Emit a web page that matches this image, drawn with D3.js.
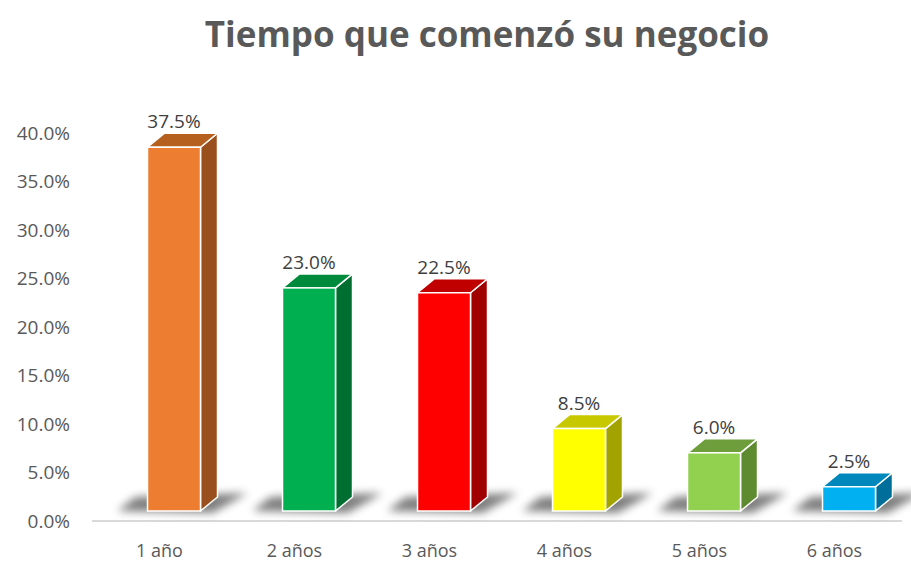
<!DOCTYPE html>
<html>
<head>
<meta charset="utf-8">
<script src="https://cdn.jsdelivr.net/npm/d3@7"></script>
<style>
    body { margin: 0; background: #ffffff; }
    svg { display: block; }
</style>
</head>
<body>
<div id="chart"></div>
<script>
// Data
const categories = ["1 año", "2 años", "3 años", "4 años", "5 años", "6 años"];
const values = [37.5, 23.0, 22.5, 8.5, 6.0, 2.5];
const yTicks = [0, 5, 10, 15, 20, 25, 30, 35, 40];

// Face colours: front, top, side
const frontColors = ["#ED7D31", "#00B050", "#FF0000", "#FFFF00", "#92D050", "#00B0F0"];
const topColors = ["#B5601F", "#008A3C", "#C00000", "#C8C800", "#6E9E3C", "#0088BC"];
const sideColors = ["#9A501D", "#006E30", "#A00000", "#A3A300", "#5E8A30", "#006E9A"];

const width = 911;
const height = 563;
const margin = { top: 133, right: 9, bottom: 42, left: 92 };

// 3D offsets
const lift = 10;     // front face sits above the floor
const depthX = 17;
const depthY = 14;
const barWidth = 53;

const svg = d3.select("#chart")
    .append("svg")
    .attr("width", width)
    .attr("height", height);

const defs = svg.append("defs");
defs.append("filter")
    .attr("id", "shadow")
    .attr("x", "-50%").attr("y", "-100%")
    .attr("width", "200%").attr("height", "300%")
    .append("feGaussianBlur")
    .attr("stdDeviation", 4);

const x = d3.scaleBand()
    .domain(categories)
    .range([margin.left, width - margin.right]);

const y = d3.scaleLinear()
    .domain([0, 40])
    .range([height - margin.bottom, margin.top]);

// Title
svg.append("text")
    .attr("x", 487)
    .attr("y", 47)
    .attr("text-anchor", "middle")
    .attr("font-family", "'Open Sans', sans-serif")
    .attr("font-weight", "bold")
    .attr("font-size", "35px")
    .attr("fill", "#595959")
    .text("Tiempo que comenzó su negocio");

// Y axis labels
svg.append("g")
    .selectAll("text")
    .data(yTicks)
    .enter()
    .append("text")
    .attr("x", 70)
    .attr("y", (d) => y(d))
    .attr("dy", "0.35em")
    .attr("text-anchor", "end")
    .attr("font-family", "'Open Sans', sans-serif")
    .attr("font-size", "19px")
    .attr("fill", "#595959")
    .text((d) => d.toFixed(1) + "%");

// X axis line
svg.append("line")
    .attr("x1", margin.left)
    .attr("x2", width - margin.right)
    .attr("y1", y(0))
    .attr("y2", y(0))
    .attr("stroke", "#D9D9D9")
    .attr("stroke-width", 2);

// X axis labels
svg.append("g")
    .selectAll("text")
    .data(categories)
    .enter()
    .append("text")
    .attr("x", (d) => x(d) + x.bandwidth() / 2)
    .attr("y", 557)
    .attr("text-anchor", "middle")
    .attr("font-family", "'Open Sans', sans-serif")
    .attr("font-size", "18px")
    .attr("fill", "#595959")
    .text((d) => d);

const bars = categories.map((c, i) => {
    const left = x(c) + x.bandwidth() / 2 - 12;
    return {
        i: i,
        value: values[i],
        left: left,
        right: left + barWidth,
        top: y(values[i]) - lift,
        bottom: y(0) - lift,
    };
});

// Shadows on the floor
svg.append("g")
    .selectAll("path")
    .data(bars)
    .enter()
    .append("path")
    .attr("d", (d) => `M${d.left - 30},${d.bottom}
        L${d.left - 12},${d.bottom - depthY}
        L${d.right + depthX + 30},${d.bottom - depthY - 4}
        L${d.right + 12},${d.bottom + 2} Z`)
    .attr("fill", "#000000")
    .attr("opacity", 0.5)
    .attr("filter", "url(#shadow)");

const barGroups = svg.append("g")
    .selectAll("g")
    .data(bars)
    .enter()
    .append("g");

// Side face
barGroups.append("path")
    .attr("d", (d) => `M${d.right},${d.top}
        L${d.right + depthX},${d.top - depthY}
        L${d.right + depthX},${d.bottom - depthY}
        L${d.right},${d.bottom} Z`)
    .attr("fill", (d) => sideColors[d.i])
    .attr("stroke", "#ffffff")
    .attr("stroke-width", 1.5)
    .attr("stroke-linejoin", "round");

// Top face
barGroups.append("path")
    .attr("d", (d) => `M${d.left},${d.top}
        L${d.left + depthX},${d.top - depthY}
        L${d.right + depthX},${d.top - depthY}
        L${d.right},${d.top} Z`)
    .attr("fill", (d) => topColors[d.i])
    .attr("stroke", "#ffffff")
    .attr("stroke-width", 1.5)
    .attr("stroke-linejoin", "round");

// Front face
barGroups.append("rect")
    .attr("x", (d) => d.left)
    .attr("y", (d) => d.top)
    .attr("width", barWidth)
    .attr("height", (d) => d.bottom - d.top)
    .attr("fill", (d) => frontColors[d.i])
    .attr("stroke", "#ffffff")
    .attr("stroke-width", 1.5);

// Value labels
barGroups.append("text")
    .attr("x", (d) => d.left + barWidth / 2)
    .attr("y", (d) => d.top - depthY - 5)
    .attr("text-anchor", "middle")
    .attr("font-family", "'Open Sans', sans-serif")
    .attr("font-size", "19px")
    .attr("fill", "#404040")
    .text((d) => d.value.toFixed(1) + "%");
</script>
</body>
</html>
